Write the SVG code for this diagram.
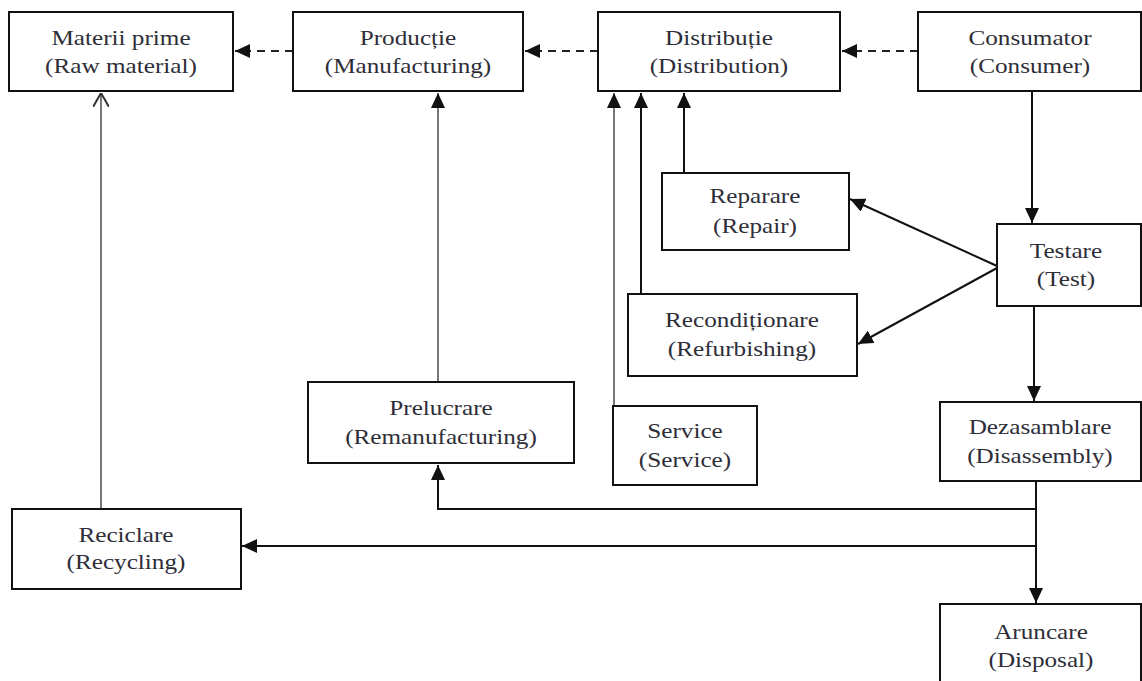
<svg xmlns="http://www.w3.org/2000/svg" width="1142" height="681" viewBox="0 0 1142 681">
<style>
.box{fill:#fff;stroke:#111;stroke-width:2}
.t{font-family:"Liberation Serif","Times New Roman",serif;font-size:21px;fill:#2e2e38;text-anchor:middle}
.c{fill:none;stroke:#111;stroke-width:2}
.g{fill:none;stroke:#777;stroke-width:2}
.d{fill:none;stroke:#222;stroke-width:2;stroke-dasharray:8 6}
</style>
<defs>
<marker id="ah" markerWidth="15" markerHeight="14" refX="15" refY="7" orient="auto" markerUnits="userSpaceOnUse">
<path d="M0,0 L15,7 L0,14 Z" fill="#111"/>
</marker>
<marker id="oh" markerWidth="14" markerHeight="16" refX="14" refY="8" orient="auto" markerUnits="userSpaceOnUse">
<path d="M0,0 L14,8 L0,16" fill="none" stroke="#333" stroke-width="2"/>
</marker>
</defs>
<rect width="1142" height="681" fill="#fff"/>
<g id="connectors">
<path class="d" d="M293,51 H235" marker-end="url(#ah)"/>
<path class="d" d="M598,51 H525" marker-end="url(#ah)"/>
<path class="d" d="M918,51 H842" marker-end="url(#ah)"/>
<path class="c" d="M1032,91 V223" marker-end="url(#ah)"/>
<path class="c" d="M997,266 L850,199" marker-end="url(#ah)"/>
<path class="c" d="M997,268 L858,344" marker-end="url(#ah)"/>
<path class="c" d="M1034,306 V401" marker-end="url(#ah)"/>
<path class="c" d="M1036,481 V603" marker-end="url(#ah)"/>
<path class="c" d="M684,173 V93" marker-end="url(#ah)"/>
<path class="c" d="M641,294 V93" marker-end="url(#ah)"/>
<path class="g" d="M614,406 V93" marker-end="url(#ah)"/>
<path class="c" d="M1036,509 H438 V465" marker-end="url(#ah)"/>
<path class="c" d="M1036,546 H242" marker-end="url(#ah)"/>
<path class="g" d="M438,382 V93" marker-end="url(#ah)"/>
<path class="g" d="M101,509 V93" marker-end="url(#oh)"/>
</g>
<g id="materii"><rect class="box" x="9" y="12" width="224" height="79"/><g transform="matrix(1.2 0 0 1 -24.2 0)"><text class="t" x="121" y="45">Materii prime</text><text class="t" x="121" y="73">(Raw material)</text></g></g>
<g id="productie"><rect class="box" x="293" y="12" width="230" height="79"/><g transform="matrix(1.2 0 0 1 -81.6 0)"><text class="t" x="408" y="45">Producție</text><text class="t" x="408" y="73">(Manufacturing)</text></g></g>
<g id="distributie"><rect class="box" x="598" y="12" width="242" height="79"/><g transform="matrix(1.2 0 0 1 -143.8 0)"><text class="t" x="719" y="45">Distribuție</text><text class="t" x="719" y="73">(Distribution)</text></g></g>
<g id="consumator"><rect class="box" x="918" y="12" width="223" height="79"/><g transform="matrix(1.2 0 0 1 -206 0)"><text class="t" x="1030" y="45">Consumator</text><text class="t" x="1030" y="73">(Consumer)</text></g></g>
<g id="reparare"><rect class="box" x="662" y="173" width="187" height="77"/><g transform="matrix(1.2 0 0 1 -151 0)"><text class="t" x="755" y="203">Reparare</text><text class="t" x="755" y="233">(Repair)</text></g></g>
<g id="testare"><rect class="box" x="997" y="224" width="144" height="82"/><g transform="matrix(1.2 0 0 1 -213.2 0)"><text class="t" x="1066" y="258">Testare</text><text class="t" x="1066" y="286">(Test)</text></g></g>
<g id="reconditionare"><rect class="box" x="628" y="294" width="229" height="82"/><g transform="matrix(1.2 0 0 1 -148.4 0)"><text class="t" x="742" y="327">Recondiționare</text><text class="t" x="742" y="356">(Refurbishing)</text></g></g>
<g id="prelucrare"><rect class="box" x="308" y="382" width="266" height="81"/><g transform="matrix(1.2 0 0 1 -88.2 0)"><text class="t" x="441" y="415">Prelucrare</text><text class="t" x="441" y="444">(Remanufacturing)</text></g></g>
<g id="service"><rect class="box" x="613" y="406" width="144" height="79"/><g transform="matrix(1.2 0 0 1 -137 0)"><text class="t" x="685" y="438">Service</text><text class="t" x="685" y="467">(Service)</text></g></g>
<g id="dezasamblare"><rect class="box" x="940" y="402" width="201" height="79"/><g transform="matrix(1.2 0 0 1 -208 0)"><text class="t" x="1040" y="434">Dezasamblare</text><text class="t" x="1040" y="463">(Disassembly)</text></g></g>
<g id="reciclare"><rect class="box" x="12" y="509" width="229" height="80"/><g transform="matrix(1.2 0 0 1 -25.2 0)"><text class="t" x="126" y="542">Reciclare</text><text class="t" x="126" y="569">(Recycling)</text></g></g>
<g id="aruncare"><rect class="box" x="940" y="604" width="201" height="90"/><g transform="matrix(1.2 0 0 1 -208.2 0)"><text class="t" x="1041" y="639">Aruncare</text><text class="t" x="1041" y="667">(Disposal)</text></g></g>
</svg>
